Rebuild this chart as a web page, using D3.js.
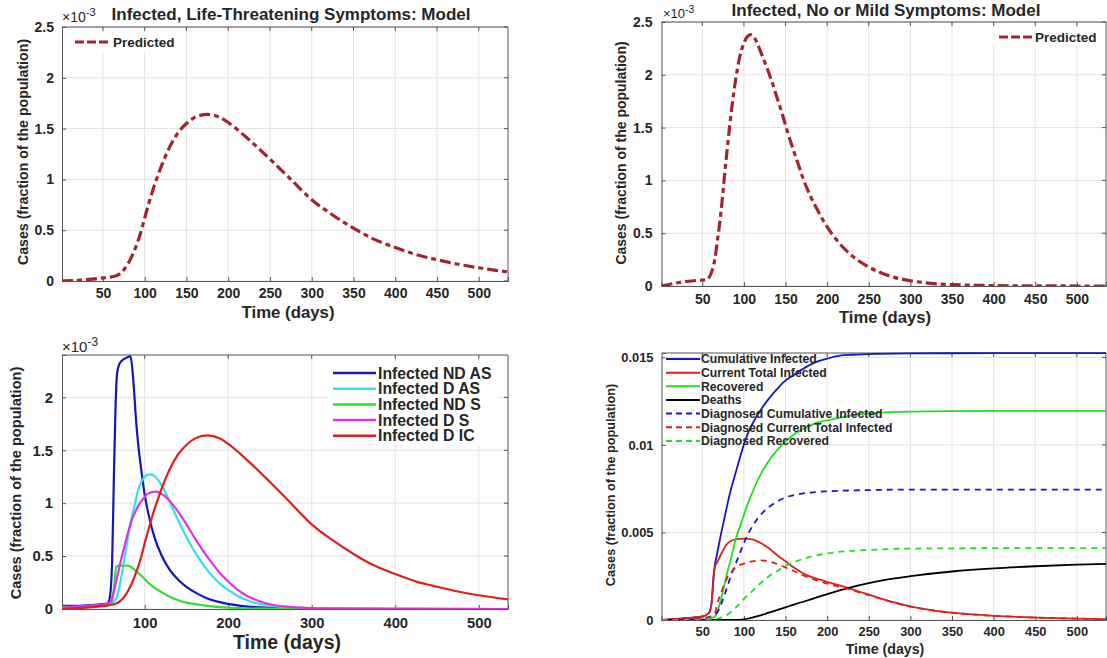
<!DOCTYPE html>
<html><head><meta charset="utf-8">
<script src="https://cdn.jsdelivr.net/npm/d3@7"></script>
<style>
body{margin:0;background:#fff}
svg{display:block}
text{font-family:"Liberation Sans",Arial,Helvetica,sans-serif;font-weight:bold;fill:#262626}
</style>
</head><body>
<svg id="chart" width="1107" height="658"></svg>
<script>
// ---------------- DATA ----------------
// Panel 1 / Panel 3 red: Infected, life-threatening symptoms (units of 1e-3)
const lifeDays = [1,25,50,60,65,70,75,80,85,90,95,100,110,120,130,140,150,160,175,190,200,225,250,275,300,325,350,375,400,425,450,475,500,535];
const lifeVals = [0,0.01,0.03,0.04,0.05,0.07,0.11,0.17,0.25,0.35,0.47,0.62,0.9,1.13,1.32,1.46,1.55,1.61,1.64,1.61,1.56,1.39,1.2,1.0,0.8,0.65,0.52,0.41,0.33,0.26,0.21,0.165,0.13,0.09];

// Panel 2: Infected, no or mild symptoms (units of 1e-3)
const mildDays = [1,20,40,55,58,62,65,68,71,74,77,80,83,86,90,95,100,104,108,112,116,121,127,133,140,146,152,158,165,171,180,187,200,212,225,250,275,300,325,350,400,450,535];
const mildVals = [0,0.03,0.05,0.06,0.08,0.15,0.25,0.42,0.6,0.82,1.07,1.3,1.52,1.72,1.95,2.17,2.3,2.36,2.38,2.36,2.3,2.2,2.08,1.95,1.78,1.63,1.47,1.32,1.16,1.02,0.85,0.74,0.56,0.43,0.32,0.18,0.095,0.05,0.025,0.013,0.004,0.001,0];

// Panel 3 series (units of 1e-3)
const ndasDays = [1,20,40,55,58,61,63,65,67,70,75,80,83,86,90,93,96,100,105,112,120,130,141,150,162,175,190,215,250,300,400,535];
const ndasVals = [0.03,0.03,0.04,0.05,0.1,0.44,1.2,1.88,2.23,2.32,2.36,2.38,2.39,2.2,1.75,1.5,1.31,1.08,0.88,0.67,0.51,0.37,0.27,0.21,0.15,0.1,0.065,0.03,0.012,0.004,0,0];
const dasDays = [1,30,55,60,63,67,71,75,79,83,88,92,96,100,104,108,116,125,133,141,150,160,170,180,190,200,212,225,240,260,280,300,350,535];
const dasVals = [0,0.02,0.04,0.05,0.07,0.12,0.26,0.44,0.63,0.81,0.98,1.12,1.2,1.25,1.27,1.27,1.22,1.1,0.96,0.82,0.68,0.54,0.42,0.32,0.24,0.18,0.12,0.075,0.045,0.022,0.012,0.007,0.002,0];
const ndsDays = [1,30,55,60,63,65,66,70,75,80,83,88,92,98,104,112,120,130,141,153,166,180,195,220,250,300,535];
const ndsVals = [0.02,0.02,0.03,0.06,0.19,0.35,0.4,0.41,0.41,0.41,0.4,0.37,0.34,0.3,0.25,0.2,0.16,0.115,0.08,0.055,0.04,0.025,0.015,0.007,0.003,0.001,0];
const dsDays = [1,30,55,60,63,67,71,76,81,86,92,98,104,113,120,130,140,150,160,170,180,190,200,210,220,235,250,270,300,350,535];
const dsVals = [0.01,0.03,0.05,0.08,0.16,0.3,0.44,0.6,0.75,0.87,0.97,1.04,1.09,1.11,1.09,1.02,0.92,0.8,0.67,0.55,0.44,0.34,0.26,0.19,0.135,0.08,0.045,0.022,0.009,0.003,0];
const panel3Names = ["Infected ND AS","Infected D AS","Infected ND S","Infected D S","Infected D IC"];

// Panel 4 series (fraction of population)
const cumDays = [1,30,50,58,61,63,65,67,72,77,83,90,96,102,108,115,123,131,140,148,160,173,185,198,215,231,260,300,400,535];
const cumVals = [0,0.0001,0.0002,0.0004,0.0009,0.0022,0.0031,0.0036,0.0048,0.0059,0.0072,0.0084,0.0094,0.0103,0.011,0.0116,0.0122,0.0127,0.0132,0.0136,0.014,0.0144,0.0147,0.0149,0.0151,0.01515,0.0152,0.01523,0.01524,0.01524];
const curDays = [1,30,50,58,61,63,64,65,68,73,81,90,100,110,120,130,140,150,160,170,180,190,200,215,227,240,250,275,300,325,350,400,450,500,535];
const curVals = [0,0.0001,0.0002,0.0004,0.0009,0.002,0.0027,0.003,0.0033,0.0038,0.0044,0.0046,0.00465,0.0046,0.0044,0.0041,0.0037,0.00335,0.003,0.0027,0.00248,0.00232,0.00218,0.00198,0.0018,0.0016,0.00145,0.00108,0.00078,0.00057,0.00042,0.00024,0.00014,0.00008,0.00005];
const recDays = [1,50,60,65,69,73,77,81,85,90,95,100,106,113,120,130,140,150,160,175,190,200,225,250,300,400,535];
const recVals = [0,0,0.0001,0.0002,0.0006,0.0013,0.0021,0.0029,0.0036,0.0046,0.0053,0.006,0.0068,0.0076,0.0083,0.0091,0.0097,0.0102,0.0106,0.011,0.0113,0.0114,0.01165,0.0118,0.0119,0.01195,0.01195];
const deathDays = [1,90,100,110,120,130,140,150,160,175,200,225,250,275,300,350,400,450,500,535];
const deathVals = [0,0,0.00004,0.00013,0.00027,0.00042,0.00057,0.00072,0.00088,0.0011,0.00148,0.00182,0.0021,0.00233,0.0025,0.00277,0.00295,0.00307,0.00316,0.0032];
const dCumDays = [1,50,60,65,70,75,80,85,90,95,100,105,110,115,120,130,140,150,165,180,200,250,300,400,535];
const dCumVals = [0,0.0001,0.0002,0.0003,0.0006,0.0012,0.0019,0.0026,0.0032,0.0038,0.0044,0.0049,0.00535,0.0057,0.006,0.00645,0.00677,0.007,0.00718,0.00728,0.00735,0.00742,0.00745,0.00745,0.00745];
const dCurDays = [1,50,60,65,69,73,77,81,86,90,100,110,120,130,140,150,160,170,180,190,200,215,227,240,250,275,300,325,350,400,450,500,535];
const dCurVals = [0,0.0001,0.0002,0.0004,0.0011,0.0016,0.0021,0.0025,0.0028,0.003,0.00322,0.00335,0.0034,0.00335,0.0032,0.003,0.0028,0.00258,0.00238,0.00222,0.00208,0.0019,0.00175,0.00156,0.00142,0.00106,0.00076,0.00056,0.00041,0.00024,0.00014,0.00008,0.00005];
const dRecDays = [1,60,70,80,90,100,110,120,130,140,150,160,175,200,225,250,300,400,535];
const dRecVals = [0,0,0.0001,0.0003,0.0007,0.0012,0.00165,0.0021,0.0025,0.0028,0.0031,0.0033,0.00355,0.0038,0.00394,0.004,0.00408,0.0041,0.0041];
const panel4Names = ["Cumulative Infected","Current Total Infected","Recovered","Deaths","Diagnosed Cumulative Infected","Diagnosed Current Total Infected","Diagnosed Recovered"];

// tick labels
const ticks50 = [50,100,150,200,250,300,350,400,450,500];
const ticks100 = [100,200,300,400,500];
const yTicksA = [0,0.5,1,1.5,2,2.5];
const yTicksB = [0,0.5,1,1.5,2];
const yTicksC = [0,0.005,0.01,0.015];

const titles = ["Infected, Life-Threatening Symptoms: Model","Infected, No or Mild Symptoms: Model"];
const yLabel = "Cases (fraction of the population)";
const xLabel = "Time (days)";

// ---------------- DRAW ----------------
const svg = d3.select("#chart");
const zip = (a,b) => a.map((d,i)=>[d,b[i]]);
let clipId = 0;

function panel(o){
  const g = svg.append("g");
  const x = d3.scaleLinear().domain([1,535]).range([o.left,o.right]);
  const y = d3.scaleLinear().domain(o.yDomain).range([o.bottom,o.top]);
  g.append("g").selectAll("line").data(o.xTicks).join("line")
    .attr("x1",d=>x(d)).attr("x2",d=>x(d)).attr("y1",o.top).attr("y2",o.bottom)
    .attr("stroke","#e3e3e3").attr("stroke-width",1);
  g.append("g").selectAll("line").data(o.yTicks).join("line")
    .attr("y1",d=>y(d)).attr("y2",d=>y(d)).attr("x1",o.left).attr("x2",o.right)
    .attr("stroke","#e3e3e3").attr("stroke-width",1);
  const xa = g.append("g").attr("transform",`translate(0,${o.bottom})`)
    .call(d3.axisBottom(x).tickValues(o.xTicks).tickSize(-4).tickPadding(o.xPad).tickFormat(d=>String(d)));
  const ya = g.append("g").attr("transform",`translate(${o.left},0)`)
    .call(d3.axisLeft(y).tickValues(o.yTicks).tickSize(-4).tickPadding(o.yPad).tickFormat(d=>String(d)));
  [xa,ya].forEach(a=>{a.select(".domain").attr("stroke","#555").attr("stroke-width",1);
    a.selectAll(".tick line").attr("stroke","#555");
    a.selectAll("text").attr("fill","#262626").attr("font-family","Liberation Sans, Arial, sans-serif").attr("font-weight","bold").attr("font-size",o.tickFont);});
  g.append("line").attr("x1",o.left).attr("x2",o.right).attr("y1",o.top).attr("y2",o.top).attr("stroke","#555");
  g.append("line").attr("x1",o.right).attr("x2",o.right).attr("y1",o.top).attr("y2",o.bottom).attr("stroke","#555");
  g.append("g").selectAll("line").data(o.xTicks).join("line")
    .attr("x1",d=>x(d)).attr("x2",d=>x(d)).attr("y1",o.top).attr("y2",o.top+4).attr("stroke","#555");
  g.append("g").selectAll("line").data(o.yTicks).join("line")
    .attr("y1",d=>y(d)).attr("y2",d=>y(d)).attr("x1",o.right).attr("x2",o.right-4).attr("stroke","#555");
  const id = "clip"+(clipId++);
  svg.append("clipPath").attr("id",id).append("rect")
    .attr("x",o.left).attr("y",o.top-3).attr("width",o.right-o.left).attr("height",o.bottom-o.top+3);
  const plot = g.append("g").attr("clip-path",`url(#${id})`);
  g.append("text").attr("x",o.xlx).attr("y",o.xly).attr("text-anchor","middle").attr("font-size",o.xlFont).text(xLabel);
  g.append("text").attr("transform",`translate(${o.ylx},${o.yly}) rotate(-90)`).attr("text-anchor","middle").attr("font-size",o.ylFont).text(yLabel);
  return {g,x,y,plot};
}

function exponent(g,xx,yy,size){
  const t = g.append("text").attr("x",xx).attr("y",yy).attr("font-size",size).style("font-weight","normal");
  t.append("tspan").text("\u00d710");
  t.append("tspan").attr("dy",-size*0.4).attr("font-size",size*0.8).text("-3");
}

const line = (p) => d3.line().x(d=>p.x(d[0])).y(d=>p.y(d[1])).curve(d3.curveMonotoneX);
const predColor = "#A2242F";

// ---- Panel 1 ----
const p1 = panel({left:62,right:508,top:27,bottom:281,yDomain:[0,2.5],xTicks:ticks50,yTicks:yTicksA,
  xPad:7,yPad:8,tickFont:14,xlx:288,xly:318,xlFont:16.8,ylx:27.5,yly:152,ylFont:14.2});
p1.plot.append("path").datum(zip(lifeDays,lifeVals)).attr("d",line(p1)).attr("fill","none")
  .attr("stroke",predColor).attr("stroke-width",3.2).attr("stroke-dasharray","11,4,5,4");
exponent(p1.g,62,22,14);
p1.g.append("text").attr("x",291).attr("y",20).attr("text-anchor","middle").attr("font-size",17).text(titles[0]);
p1.g.append("rect").attr("x",66).attr("y",33).attr("width",118).attr("height",19).attr("fill","#fff");
p1.g.append("line").attr("x1",75).attr("x2",111).attr("y1",42).attr("y2",42).attr("stroke",predColor).attr("stroke-width",3.2).attr("stroke-dasharray","9,3");
p1.g.append("text").attr("x",113).attr("y",47).attr("font-size",13.5).text("Predicted");

// ---- Panel 2 ----
const p2 = panel({left:661.5,right:1106,top:22,bottom:286,yDomain:[0,2.5],xTicks:ticks50,yTicks:yTicksA,
  xPad:8,yPad:9,tickFont:14,xlx:885,xly:323,xlFont:16.6,ylx:626,yly:153,ylFont:14});
p2.plot.append("path").datum(zip(mildDays,mildVals)).attr("d",line(p2)).attr("fill","none")
  .attr("stroke",predColor).attr("stroke-width",3.2).attr("stroke-dasharray","11,4,5,4");
exponent(p2.g,663,18,13);
p2.g.append("text").attr("x",886).attr("y",16).attr("text-anchor","middle").attr("font-size",17).text(titles[1]);
p2.g.append("rect").attr("x",992).attr("y",28).attr("width",112).attr("height",18).attr("fill","#fff");
p2.g.append("line").attr("x1",999).attr("x2",1033).attr("y1",37).attr("y2",37).attr("stroke",predColor).attr("stroke-width",3.2).attr("stroke-dasharray","9,3");
p2.g.append("text").attr("x",1035).attr("y",42).attr("font-size",13.5).text("Predicted");

// ---- Panel 3 ----
const p3 = panel({left:62,right:508,top:355,bottom:609,yDomain:[0,2.4],xTicks:ticks100,yTicks:yTicksB,
  xPad:8,yPad:9,tickFont:14.8,xlx:287,xly:649,xlFont:19.5,ylx:21,yly:483,ylFont:14.6});
const p3Series = [[ndasDays,ndasVals,"#1515B8"],[dasDays,dasVals,"#33E0E6"],[ndsDays,ndsVals,"#33DD33"],[dsDays,dsVals,"#E033E0"],[lifeDays,lifeVals,"#DD1F1F"]];
p3Series.forEach(s=>{
  p3.plot.append("path").datum(zip(s[0],s[1])).attr("d",line(p3)).attr("fill","none").attr("stroke",s[2]).attr("stroke-width",2.2);
});
exponent(p3.g,62,352,15);
p3.g.append("rect").attr("x",328).attr("y",363).attr("width",170).attr("height",82).attr("fill","#fff");
p3Series.forEach((s,i)=>{
  const yy = 373 + i*15.7;
  p3.g.append("line").attr("x1",333).attr("x2",376).attr("y1",yy).attr("y2",yy).attr("stroke",s[2]).attr("stroke-width",2.5);
  p3.g.append("text").attr("x",378).attr("y",yy+5.5).attr("font-size",15.8).text(panel3Names[i]);
});

// ---- Panel 4 ----
const p4 = panel({left:661.5,right:1106,top:353,bottom:620,yDomain:[0,0.01525],xTicks:ticks50,yTicks:yTicksC,
  xPad:7,yPad:8,tickFont:12.9,xlx:885,xly:654,xlFont:14.2,ylx:615,yly:485,ylFont:12.7});
const p4Series = [[cumDays,cumVals,"#1515CC",null],[curDays,curVals,"#E01E1E",null],[recDays,recVals,"#22DD22",null],[deathDays,deathVals,"#000000",null],
  [dCumDays,dCumVals,"#1515CC","6,5"],[dCurDays,dCurVals,"#E01E1E","6,5"],[dRecDays,dRecVals,"#22DD22","6,5"]];
p4Series.forEach(s=>{
  const pth = p4.plot.append("path").datum(zip(s[0],s[1])).attr("d",line(p4)).attr("fill","none").attr("stroke",s[2]).attr("stroke-width",1.8);
  if(s[3]) pth.attr("stroke-dasharray",s[3]);
});
p4Series.forEach((s,i)=>{
  const yy = 359 + i*13.65;
  const l = p4.g.append("line").attr("x1",666).attr("x2",700).attr("y1",yy).attr("y2",yy).attr("stroke",s[2]).attr("stroke-width",2);
  if(s[3]) l.attr("stroke-dasharray","6,4");
  p4.g.append("text").attr("x",701).attr("y",yy+4.3).attr("font-size",12.2).text(panel4Names[i]);
});
</script>
</body></html>
